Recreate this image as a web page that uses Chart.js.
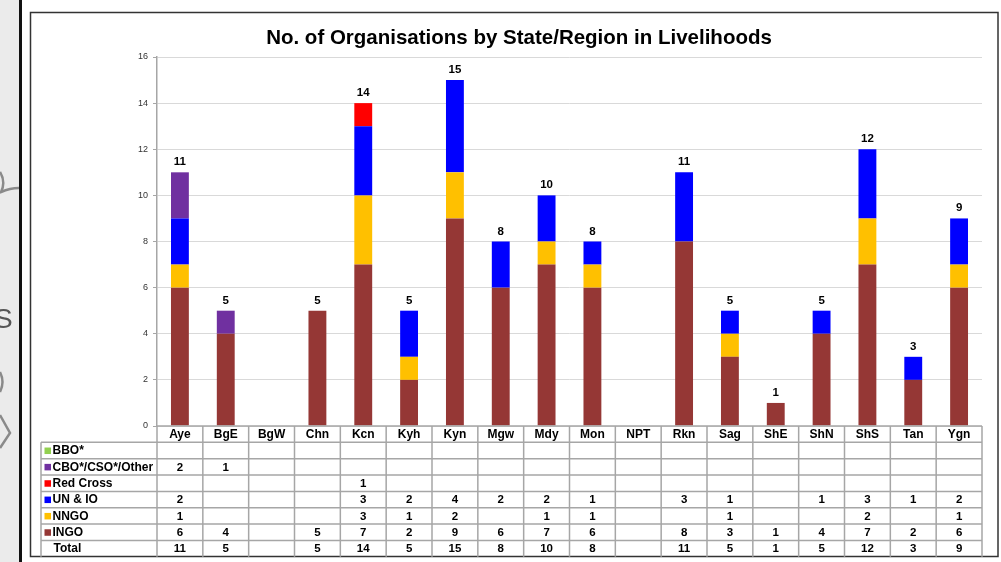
<!DOCTYPE html>
<html><head><meta charset="utf-8">
<script src="https://cdn.jsdelivr.net/npm/chart.js@4.4.1/dist/chart.umd.min.js"></script>
<style>html,body{margin:0;padding:0;background:#fff;overflow:hidden}canvas{display:block}</style>
</head><body>
<canvas id="c" width="1001" height="562"></canvas>
<script>
const categories = ['Aye','BgE','BgW','Chn','Kcn','Kyh','Kyn','Mgw','Mdy','Mon','NPT','Rkn','Sag','ShE','ShN','ShS','Tan','Ygn'];
const bbo      = [null,null,null,null,null,null,null,null,null,null,null,null,null,null,null,null,null,null];
const cbo      = [2,1,null,null,null,null,null,null,null,null,null,null,null,null,null,null,null,null];
const redCross = [null,null,null,null,1,null,null,null,null,null,null,null,null,null,null,null,null,null];
const unIo     = [2,null,null,null,3,2,4,2,2,1,null,3,1,null,1,3,1,2];
const nngo     = [1,null,null,null,3,1,2,null,1,1,null,null,1,null,null,2,null,1];
const ingo     = [6,4,null,5,7,2,9,6,7,6,null,8,3,1,4,7,2,6];
const totals   = [11,5,null,5,14,5,15,8,10,8,null,11,5,1,5,12,3,9];
const yTicks   = [0,2,4,6,8,10,12,14,16];
const titleText = 'No. of Organisations by State/Region in Livelihoods';

const series = [
  {label:'INGO', data:ingo, color:'#953735'},
  {label:'NNGO', data:nngo, color:'#FFC000'},
  {label:'UN & IO', data:unIo, color:'#0000FF'},
  {label:'Red Cross', data:redCross, color:'#FF0000'},
  {label:'CBO*/CSO*/Other', data:cbo, color:'#7030A0'},
  {label:'BBO*', data:bbo, color:'#92D050'}
];
const tableRows = [series[5],series[4],series[3],series[2],series[1],series[0]];

const FONT = '"Liberation Sans", Arial, sans-serif';

const decor = {
  id:'decor',
  beforeDraw(chart){
    const ctx = chart.ctx;
    ctx.save();
    ctx.fillStyle='#fff'; ctx.fillRect(0,0,1001,562);
    ctx.fillStyle='#ebebeb'; ctx.fillRect(0,0,19,562);
    ctx.fillStyle='#111'; ctx.fillRect(19,0,3,562);
    // slide fragments
    ctx.strokeStyle='#8a8a8a'; ctx.lineWidth=2.5;
    ctx.beginPath(); ctx.moveTo(0,172); ctx.quadraticCurveTo(6,182,1,192); ctx.quadraticCurveTo(10,188,19,188); ctx.stroke();
    ctx.beginPath(); ctx.moveTo(0,372); ctx.quadraticCurveTo(5,382,0,392); ctx.stroke();
    ctx.beginPath(); ctx.moveTo(0,415); ctx.lineTo(10,433); ctx.lineTo(0,448); ctx.stroke();
    ctx.fillStyle='#555'; ctx.font='28px '+FONT; ctx.textBaseline='middle'; ctx.textAlign='left';
    ctx.fillText('S',-6,320);
    // frame
    ctx.strokeStyle='#333'; ctx.lineWidth=1.5;
    ctx.strokeRect(30.5,12.5,967.5,544);
    ctx.restore();
  },
  afterDraw(chart){
    const ctx = chart.ctx, x = chart.scales.x, y = chart.scales.y, ca = chart.chartArea;
    ctx.save();
    // title
    ctx.fillStyle='#000'; ctx.font='bold 20.5px '+FONT; ctx.textAlign='center'; ctx.textBaseline='middle';
    ctx.fillText(titleText, 519, 38);
    // totals labels
    ctx.font='bold 11.5px '+FONT; ctx.textBaseline='alphabetic';
    categories.forEach((c,i)=>{
      if(totals[i]==null) return;
      ctx.fillText(String(totals[i]), x.getPixelForValue(i), y.getPixelForValue(totals[i]) - 7);
    });
    // table
    const colW = (ca.right-ca.left)/categories.length;
    const top = ca.bottom, rh = 16.35;
    const tblLeft = 41;
    const nRows = tableRows.length + 1; // + total
    const bottom = top + rh*(nRows+1);
    ctx.strokeStyle='#a6a6a6'; ctx.lineWidth=1.5;
    ctx.beginPath();
    ctx.moveTo(ca.left, top); ctx.lineTo(ca.right, top);
    for(let r=1;r<=nRows;r++){ const yy=top+rh*r; ctx.moveTo(tblLeft,yy); ctx.lineTo(ca.right,yy); }
    for(let i=0;i<=categories.length;i++){ const xx=ca.left+colW*i; ctx.moveTo(xx,top); ctx.lineTo(xx,bottom); }
    ctx.moveTo(tblLeft, top+rh); ctx.lineTo(tblLeft, bottom);
    ctx.stroke();
    // header labels
    ctx.fillStyle='#000'; ctx.font='bold 12px '+FONT; ctx.textAlign='center'; ctx.textBaseline='middle';
    categories.forEach((c,i)=> ctx.fillText(c, x.getPixelForValue(i), top+rh/2+0.5));
    // rows
    tableRows.forEach((s,r)=>{
      const cy = top + rh*(r+1) + rh/2 + 0.5;
      ctx.fillStyle=s.color; ctx.fillRect(44.5, cy-3.5, 6.5, 6.5);
      ctx.fillStyle='#000'; ctx.textAlign='left'; ctx.font='bold 12px '+FONT;
      ctx.fillText(s.label, 52.5, cy);
      ctx.textAlign='center'; ctx.font='bold 11.5px '+FONT;
      s.data.forEach((v,i)=>{ if(v!=null) ctx.fillText(String(v), x.getPixelForValue(i), cy); });
    });
    const ty = top + rh*(nRows) + rh/2 + 0.5;
    ctx.textAlign='left'; ctx.font='bold 12px '+FONT; ctx.fillText('Total', 53.5, ty);
    ctx.textAlign='center'; ctx.font='bold 11.5px '+FONT;
    totals.forEach((v,i)=>{ if(v!=null) ctx.fillText(String(v), x.getPixelForValue(i), ty); });
    ctx.restore();
  }
};

new Chart(document.getElementById('c'), {
  type:'bar',
  data:{
    labels:categories,
    datasets: series.map(s=>({label:s.label, data:s.data, backgroundColor:s.color, borderWidth:0,
      barPercentage:0.39, categoryPercentage:1}))
  },
  options:{
    responsive:false, animation:false, devicePixelRatio:1,
    layout:{padding:{top:57,right:19,bottom:136,left:0}},
    plugins:{legend:{display:false}, title:{display:false}, tooltip:{enabled:false}},
    scales:{
      x:{display:false, stacked:true},
      y:{stacked:true, min:0, max:16,
        afterFit(s){ s.width = 157; },
        afterBuildTicks(s){ s.ticks = yTicks.map(v=>({value:v})); },
        ticks:{font:{size:9, family:FONT}, color:'#333333', padding:5},
        grid:{color:'#d9d9d9', tickLength:4, tickColor:'#a6a6a6'},
        border:{color:'#a6a6a6', width:1.5}
      }
    }
  },
  plugins:[decor]
});
</script>
</body></html>
